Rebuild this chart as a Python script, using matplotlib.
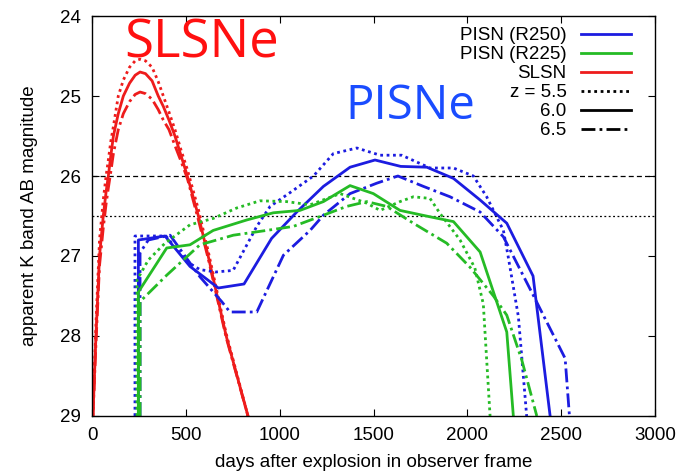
import matplotlib
matplotlib.use("Agg")
import matplotlib.pyplot as plt
from matplotlib.lines import Line2D

# ---------------- data ----------------
slsn_x = [5, 21, 40, 60, 75, 87, 100, 114, 140, 167, 200, 230, 256, 285, 320, 353, 380, 410, 442, 475, 508, 567, 619, 715, 831]
slsn_z55 = [29.0, 27.85, 26.8, 26.3, 26.0, 25.8, 25.57, 25.38, 25.0, 24.8, 24.64, 24.56, 24.54, 24.56, 24.64, 24.82, 25.0, 25.2, 25.42, 25.68, 25.92, 26.42, 26.94, 27.97, 29.0]
slsn_z60 = [29.0, 28.0, 27.0, 26.5, 26.2, 26.0, 25.75, 25.5, 25.22, 25.0, 24.84, 24.74, 24.70, 24.72, 24.81, 25.0, 25.13, 25.3, 25.5, 25.75, 26.0, 26.5, 27.0, 28.0, 29.0]
slsn_z65 = [29.0, 28.1, 27.12, 26.65, 26.35, 26.15, 25.95, 25.72, 25.42, 25.22, 25.07, 24.98, 24.95, 24.97, 25.04, 25.17, 25.3, 25.42, 25.62, 25.82, 26.03, 26.55, 27.03, 28.02, 29.0]

r250_z55_x = [229, 229, 394, 505, 575, 660, 752, 878, 949, 1060, 1180, 1286, 1411, 1535, 1650, 1801, 1926, 2032, 2103, 2192, 2217, 2272, 2316]
r250_z55_y = [29.0, 26.75, 26.75, 27.07, 27.17, 27.2, 27.18, 26.63, 26.38, 26.2, 26.0, 25.72, 25.65, 25.74, 25.74, 25.9, 25.9, 26.0, 26.26, 26.68, 27.0, 27.76, 29.0]

r250_z60_x = [247, 247, 389, 522, 673, 810, 957, 1091, 1233, 1375, 1508, 1645, 1784, 1926, 2068, 2210, 2350, 2441]
r250_z60_y = [29.0, 26.8, 26.75, 27.13, 27.40, 27.35, 26.78, 26.45, 26.13, 25.89, 25.80, 25.88, 25.89, 26.03, 26.30, 26.59, 27.25, 29.0]

r250_z65_x = [256, 256, 300, 416, 575, 691, 735, 878, 1020, 1162, 1233, 1375, 1517, 1630, 1766, 1908, 2068, 2192, 2351, 2521, 2544]
r250_z65_y = [29.0, 26.96, 26.8, 26.74, 27.26, 27.57, 27.70, 27.70, 26.99, 26.68, 26.49, 26.22, 26.09, 26.0, 26.13, 26.26, 26.45, 26.76, 27.49, 28.28, 29.0]

r225_z55_x = [240, 240, 300, 389, 522, 646, 771, 895, 1037, 1162, 1322, 1464, 1535, 1641, 1712, 1801, 1855, 1961, 2040, 2085, 2121]
r225_z55_y = [29.0, 27.3, 27.05, 26.84, 26.61, 26.53, 26.40, 26.31, 26.32, 26.36, 26.22, 26.34, 26.43, 26.32, 26.26, 26.28, 26.47, 26.8, 27.15, 27.6, 29.0]

r225_z60_x = [247, 247, 398, 522, 646, 824, 966, 1108, 1233, 1375, 1499, 1641, 1801, 1926, 2068, 2210, 2245]
r225_z60_y = [29.0, 27.45, 26.90, 26.86, 26.68, 26.55, 26.46, 26.43, 26.32, 26.12, 26.22, 26.43, 26.51, 26.57, 26.95, 27.95, 29.0]

r225_z65_x = [256, 256, 398, 575, 753, 931, 1073, 1233, 1357, 1464, 1570, 1712, 1890, 2014, 2139, 2210, 2290, 2370]
r225_z65_y = [29.0, 27.57, 27.24, 26.86, 26.74, 26.68, 26.63, 26.49, 26.38, 26.32, 26.38, 26.59, 26.84, 27.14, 27.5, 27.74, 28.3, 29.0]

limit_dashed = 26.0
limit_dotted = 26.5

x_ticks = [0, 500, 1000, 1500, 2000, 2500, 3000]
y_ticks = [24, 25, 26, 27, 28, 29]

legend_labels = ["PISN (R250)", "PISN (R225)", "SLSN", "z = 5.5", "6.0", "6.5"]

# ---------------- style ----------------
BLUE = "#1c1ce0"
GREEN = "#25bb25"
RED = "#ee1c1c"
LS = {"5.5": (0, (1, 1.3)), "6.0": "-", "6.5": (0, (5, 1.5, 1, 1.5))}
LW = 2.0

plt.rcParams["font.family"] = ["Liberation Sans", "DejaVu Sans"]

fig = plt.figure(figsize=(6.79, 4.74), dpi=100)
ax = fig.add_axes([0.1355, 0.1224, 0.8292, 0.8438])

ax.axhline(limit_dashed, color="black", lw=0.9, ls=(0, (4, 2.5)))
ax.axhline(limit_dotted, color="black", lw=0.9, ls=(0, (1.5, 2)))

for y, z in [(slsn_z55, "5.5"), (slsn_z60, "6.0"), (slsn_z65, "6.5")]:
    ax.plot(slsn_x, y, color=RED, lw=LW, ls=LS[z])

ax.plot(r250_z55_x, r250_z55_y, color=BLUE, lw=LW, ls=LS["5.5"])
ax.plot(r250_z60_x, r250_z60_y, color=BLUE, lw=LW, ls=LS["6.0"])
ax.plot(r250_z65_x, r250_z65_y, color=BLUE, lw=LW, ls=LS["6.5"])
ax.plot(r225_z55_x, r225_z55_y, color=GREEN, lw=LW, ls=LS["5.5"])
ax.plot(r225_z60_x, r225_z60_y, color=GREEN, lw=LW, ls=LS["6.0"])
ax.plot(r225_z65_x, r225_z65_y, color=GREEN, lw=LW, ls=LS["6.5"])

ax.set_xlim(0, 3000)
ax.set_ylim(29, 24)
ax.set_xticks(x_ticks)
ax.set_yticks(y_ticks)
ax.tick_params(direction="in", top=True, right=True, length=5, labelsize=13.5, pad=8, width=0.8)
for s in ax.spines.values():
    s.set_linewidth(1.0)

ax.set_xlabel("days after explosion in observer frame", fontsize=13.5, labelpad=7)
ax.set_ylabel("apparent K band AB magnitude", fontsize=13.5, labelpad=16)

handles = [
    Line2D([], [], color=BLUE, lw=LW, ls="-"),
    Line2D([], [], color=GREEN, lw=LW, ls="-"),
    Line2D([], [], color=RED, lw=LW, ls="-"),
    Line2D([], [], color="black", lw=LW, ls=LS["5.5"]),
    Line2D([], [], color="black", lw=LW, ls=LS["6.0"]),
    Line2D([], [], color="black", lw=LW, ls=LS["6.5"]),
]
leg = ax.legend(handles, legend_labels, loc="upper right", frameon=False, markerfirst=False,
                fontsize=13.5, handlelength=2.7, handletextpad=0.75, labelspacing=0.1,
                borderaxespad=0.2, bbox_to_anchor=(0.978, 1.0))

ax.text(0.195, 0.997, "SLSNe", transform=ax.transAxes, color="#ff1010", fontsize=38,
        fontfamily="Open Sans", ha="center", va="top")
ax.text(0.565, 0.835, "PISNe", transform=ax.transAxes, color="#1a4cff", fontsize=34,
        fontfamily="Open Sans", ha="center", va="top")

fig.savefig("out.png", dpi=100)
